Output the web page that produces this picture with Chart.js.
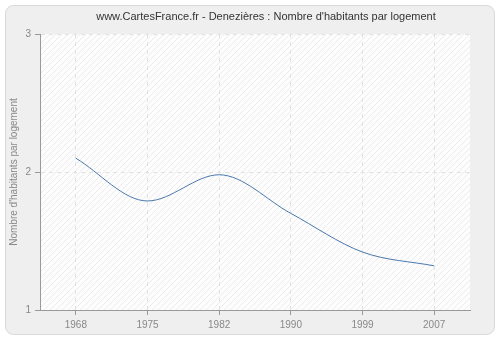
<!DOCTYPE html>
<html>
<head>
<meta charset="utf-8">
<script src="https://cdn.jsdelivr.net/npm/chart.js@4"></script>
<style>
  html, body { margin: 0; padding: 0; background: #fff; }
  #wrap { width: 500px; height: 340px; }
</style>
</head>
<body>
<div id="wrap"><canvas id="chart" width="500" height="340"></canvas></div>
<script>
// Census years and average number of people per household
const years = ["1968", "1975", "1982", "1990", "1999", "2007"];
const habitantsParLogement = [2.10, 1.79, 1.98, 1.70, 1.42, 1.32];
const yTicks = [1, 2, 3];

const chartTitle = "www.CartesFrance.fr - Denezières : Nombre d'habitants par logement";
const yTitle = "Nombre d'habitants par logement";

const fontFamily = "'Liberation Sans', Arial, sans-serif";

// Diagonal hatch used to fill the plot area
const makeHatch = (ctx) => {
  const c = document.createElement("canvas");
  c.width = 6;
  c.height = 6;
  const p = c.getContext("2d");
  p.fillStyle = "#fdfdfd";
  p.fillRect(0, 0, 6, 6);
  p.strokeStyle = "#ececec";
  p.lineWidth = 1;
  p.beginPath();
  p.moveTo(0, 6);
  p.lineTo(6, 0);
  p.moveTo(-1, 1);
  p.lineTo(1, -1);
  p.moveTo(5, 7);
  p.lineTo(7, 5);
  p.stroke();
  return ctx.createPattern(c, "repeat");
};

// Panel background, rounded frame and hatched plot area
const backgroundPlugin = {
  id: "background",
  beforeDraw: (chart) => {
    const ctx = chart.ctx;
    const area = chart.chartArea;
    ctx.save();
    ctx.fillStyle = "#ffffff";
    ctx.fillRect(0, 0, chart.width, chart.height);
    ctx.beginPath();
    ctx.roundRect(5.5, 5.5, chart.width - 11, chart.height - 11, 8);
    ctx.fillStyle = "#efefef";
    ctx.fill();
    ctx.strokeStyle = "#d9d9d9";
    ctx.lineWidth = 1;
    ctx.stroke();
    ctx.fillStyle = makeHatch(ctx);
    ctx.fillRect(area.left, area.top, area.right - area.left, area.bottom - area.top);
    ctx.restore();
  },
  // title sits a little right of the canvas centre
  afterDraw: (chart) => {
    const ctx = chart.ctx;
    ctx.save();
    ctx.font = "11px " + fontFamily;
    ctx.fillStyle = "#333333";
    ctx.textAlign = "center";
    ctx.textBaseline = "middle";
    ctx.fillText(chartTitle, 266, 17);
    ctx.restore();
  },
};

const ctx = document.getElementById("chart").getContext("2d");
new Chart(ctx, {
  type: "line",
  data: {
    labels: years,
    datasets: [
      {
        data: habitantsParLogement,
        borderColor: "#4a78ae",
        borderWidth: 1,
        pointRadius: 0,
        fill: false,
        cubicInterpolationMode: "monotone",
      },
    ],
  },
  options: {
    responsive: false,
    animation: false,
    layout: { padding: { left: 0, right: 30, top: 34, bottom: 0 } },
    plugins: {
      legend: { display: false },
      tooltip: { enabled: false },
      title: { display: false },
    },
    scales: {
      x: {
        offset: true,
        grid: {
          offset: false,
          color: "#e2e2e2",
          tickColor: "#999999",
          tickLength: 5,
        },
        border: { color: "#999999", width: 1, dash: [4, 4] },
        ticks: {
          color: "#888888",
          font: { family: fontFamily, size: 10 },
          padding: 4,
          maxRotation: 0,
        },
        afterFit: (scale) => {
          scale.height = 30;
        },
      },
      y: {
        min: 1,
        max: 3,
        afterBuildTicks: (scale) => {
          scale.ticks = yTicks.map((v) => ({ value: v }));
        },
        grid: {
          color: "#e2e2e2",
          tickColor: "#999999",
          tickLength: 5,
        },
        border: { color: "#999999", width: 1, dash: [4, 4] },
        ticks: {
          color: "#888888",
          font: { family: fontFamily, size: 10 },
          padding: 4,
        },
        title: {
          display: true,
          text: yTitle,
          color: "#888888",
          font: { family: fontFamily, size: 10 },
          padding: { top: 8, bottom: 0 },
        },
        afterFit: (scale) => {
          scale.width = 40;
        },
      },
    },
  },
  plugins: [backgroundPlugin],
});
</script>
</body>
</html>
